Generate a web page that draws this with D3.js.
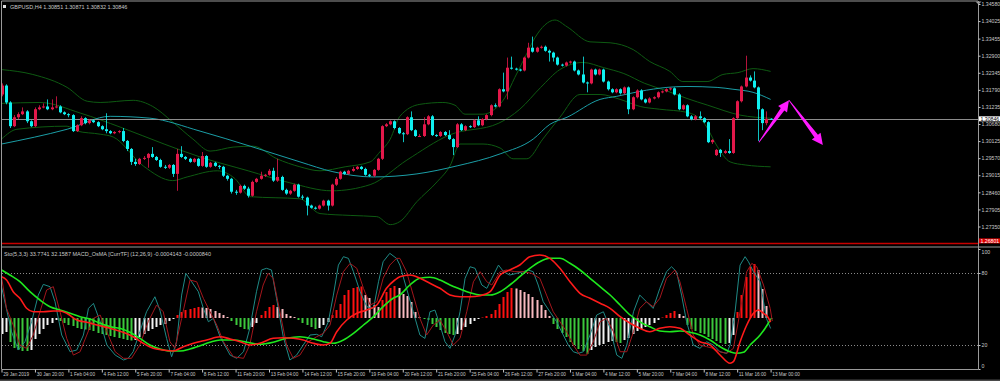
<!DOCTYPE html>
<html>
<head>
<meta charset="utf-8">
<script src="https://cdnjs.cloudflare.com/ajax/libs/d3/7.8.5/d3.min.js"></script>
<style>
body { margin: 0; background: #000; }
svg { display: block; }
text { font-family: "Liberation Sans", Arial, sans-serif; font-size: 5.5px; fill: #c8c8c8; }
</style>
</head>
<body>
<svg id="chart" width="1000" height="381"></svg>
<script>
"use strict";

// ---- data (GBPUSD H4, 185 bars) ----
const symbol = "GBPUSD,H4";

const opens = [1.3164,1.3193,1.3138,1.3061,1.3090,1.3100,1.3109,1.3077,1.3061,1.3116,
  1.3122,1.3125,1.3116,1.3122,1.3125,1.3106,1.3100,1.3097,1.3045,1.3064,
  1.3087,1.3071,1.3080,1.3074,1.3061,1.3051,1.3045,1.3038,1.3042,1.3045,
  1.3013,1.2987,1.2945,1.2938,1.2955,1.2958,1.2971,1.2961,1.2951,1.2929,
  1.2926,1.2935,1.2906,1.2971,1.2961,1.2955,1.2945,1.2955,1.2932,1.2964,
  1.2929,1.2942,1.2932,1.2929,1.2900,1.2890,1.2848,1.2845,1.2867,1.2858,
  1.2835,1.2880,1.2890,1.2900,1.2903,1.2916,1.2884,1.2896,1.2854,1.2842,
  1.2851,1.2871,1.2832,1.2829,1.2803,1.2796,1.2793,1.2803,1.2819,1.2803,
  1.2871,1.2890,1.2913,1.2906,1.2916,1.2922,1.2929,1.2922,1.2903,1.2900,
  1.2919,1.2955,1.3061,1.3067,1.3077,1.3055,1.3038,1.3035,1.3090,1.3048,
  1.3029,1.3029,1.3067,1.3093,1.3032,1.3029,1.3042,1.3032,1.3019,1.2993,
  1.3067,1.3048,1.3061,1.3058,1.3080,1.3064,1.3084,1.3097,1.3129,1.3125,
  1.3181,1.3174,1.3251,1.3248,1.3245,1.3242,1.3284,1.3316,1.3303,1.3316,
  1.3319,1.3306,1.3300,1.3284,1.3261,1.3258,1.3268,1.3271,1.3242,1.3229,
  1.3203,1.3200,1.3245,1.3229,1.3245,1.3206,1.3181,1.3171,1.3181,1.3168,
  1.3187,1.3116,1.3155,1.3177,1.3148,1.3138,1.3151,1.3155,1.3171,1.3174,
  1.3181,1.3184,1.3164,1.3116,1.3129,1.3093,1.3084,1.3093,1.3087,1.3074,
  1.3009,1.2967,1.2984,1.2974,1.2980,1.2974,1.3087,1.3142,1.3190,1.3219,
  1.3209,1.3187,1.3116,1.3071,1.30851];

const highs = [1.3200,1.3197,1.3142,1.3097,1.3106,1.3122,1.3113,1.3080,1.3122,1.3129,
  1.3135,1.3148,1.3148,1.3158,1.3129,1.3109,1.3103,1.3100,1.3067,1.3093,
  1.3090,1.3084,1.3084,1.3077,1.3064,1.3103,1.3048,1.3045,1.3048,1.3055,
  1.3016,1.2990,1.2955,1.2958,1.2964,1.2974,1.2993,1.2964,1.2955,1.2935,
  1.2938,1.2938,1.2987,1.2996,1.2964,1.2958,1.2958,1.2958,1.2977,1.2967,
  1.2945,1.2945,1.2935,1.2932,1.2903,1.2893,1.2854,1.2871,1.2871,1.2864,
  1.2884,1.2893,1.2913,1.2906,1.2922,1.2926,1.2955,1.2900,1.2858,1.2854,
  1.2874,1.2874,1.2838,1.2832,1.2806,1.2800,1.2806,1.2822,1.2822,1.2874,
  1.2896,1.2916,1.2916,1.2919,1.2929,1.2932,1.2932,1.2926,1.2906,1.2922,
  1.2958,1.3064,1.3071,1.3080,1.3080,1.3058,1.3042,1.3093,1.3109,1.3051,
  1.3035,1.3090,1.3097,1.3097,1.3035,1.3045,1.3045,1.3048,1.3022,1.3071,
  1.3071,1.3064,1.3064,1.3084,1.3093,1.3087,1.3100,1.3132,1.3135,1.3184,
  1.3235,1.3284,1.3287,1.3251,1.3248,1.3287,1.3332,1.3352,1.3319,1.3323,
  1.3323,1.3310,1.3303,1.3287,1.3264,1.3271,1.3274,1.3274,1.3245,1.3287,
  1.3206,1.3248,1.3248,1.3248,1.3248,1.3209,1.3184,1.3184,1.3184,1.3190,
  1.3190,1.3158,1.3181,1.3181,1.3151,1.3155,1.3158,1.3174,1.3177,1.3184,
  1.3187,1.3187,1.3168,1.3132,1.3132,1.3097,1.3097,1.3109,1.3090,1.3077,
  1.3019,1.2987,1.2987,1.2984,1.3019,1.3090,1.3145,1.3193,1.3290,1.3226,
  1.3239,1.3190,1.3119,1.3109,1.30871];

const lows = [1.3158,1.3132,1.3055,1.3058,1.3084,1.3097,1.3071,1.3058,1.3058,1.3113,
  1.3119,1.3113,1.3113,1.3119,1.3103,1.3097,1.3090,1.3042,1.3042,1.3061,
  1.3067,1.3067,1.3071,1.3058,1.3048,1.3038,1.3035,1.3035,1.3038,1.3009,
  1.2980,1.2935,1.2932,1.2935,1.2951,1.2926,1.2958,1.2948,1.2926,1.2922,
  1.2922,1.2896,1.2851,1.2958,1.2951,1.2942,1.2942,1.2929,1.2929,1.2926,
  1.2926,1.2929,1.2922,1.2896,1.2884,1.2842,1.2838,1.2842,1.2854,1.2829,
  1.2832,1.2877,1.2887,1.2896,1.2900,1.2880,1.2880,1.2851,1.2838,1.2838,
  1.2848,1.2829,1.2822,1.2771,1.2793,1.2790,1.2790,1.2800,1.2787,1.2800,
  1.2867,1.2887,1.2903,1.2903,1.2913,1.2919,1.2919,1.2900,1.2896,1.2896,
  1.2916,1.2951,1.3058,1.3064,1.3051,1.3035,1.3009,1.3032,1.3045,1.3026,
  1.3026,1.3026,1.3064,1.3029,1.3026,1.3026,1.3029,1.3016,1.2967,1.2990,
  1.3045,1.3045,1.3055,1.3055,1.3061,1.3061,1.3080,1.3093,1.3122,1.3122,
  1.3171,1.3148,1.3245,1.3242,1.3239,1.3239,1.3281,1.3300,1.3300,1.3313,
  1.3303,1.3271,1.3271,1.3258,1.3255,1.3255,1.3264,1.3239,1.3226,1.3200,
  1.3171,1.3197,1.3226,1.3226,1.3203,1.3177,1.3168,1.3168,1.3164,1.3164,
  1.3100,1.3113,1.3151,1.3145,1.3135,1.3135,1.3148,1.3151,1.3168,1.3171,
  1.3177,1.3161,1.3113,1.3113,1.3090,1.3080,1.3080,1.3084,1.3071,1.3006,
  1.3003,1.2964,1.2961,1.2971,1.2971,1.2971,1.3084,1.3138,1.3187,1.3206,
  1.3184,1.3013,1.3048,1.3064,1.30832];

const closes = [1.3193,1.3138,1.3061,1.3090,1.3100,1.3109,1.3077,1.3061,1.3116,1.3122,
  1.3125,1.3116,1.3122,1.3125,1.3106,1.3100,1.3097,1.3045,1.3064,1.3087,
  1.3071,1.3080,1.3074,1.3061,1.3051,1.3045,1.3038,1.3042,1.3045,1.3013,
  1.2987,1.2945,1.2938,1.2955,1.2958,1.2971,1.2961,1.2951,1.2929,1.2926,
  1.2935,1.2906,1.2971,1.2961,1.2955,1.2945,1.2955,1.2932,1.2964,1.2929,
  1.2942,1.2932,1.2929,1.2900,1.2890,1.2848,1.2845,1.2867,1.2858,1.2835,
  1.2880,1.2890,1.2900,1.2903,1.2916,1.2884,1.2896,1.2854,1.2842,1.2851,
  1.2871,1.2832,1.2829,1.2803,1.2796,1.2793,1.2803,1.2819,1.2803,1.2871,
  1.2890,1.2913,1.2906,1.2916,1.2922,1.2929,1.2922,1.2903,1.2900,1.2919,
  1.2955,1.3061,1.3067,1.3077,1.3055,1.3038,1.3035,1.3090,1.3048,1.3029,
  1.3029,1.3067,1.3093,1.3032,1.3029,1.3042,1.3032,1.3019,1.2993,1.3067,
  1.3048,1.3061,1.3058,1.3080,1.3064,1.3084,1.3097,1.3129,1.3125,1.3181,
  1.3174,1.3251,1.3248,1.3245,1.3242,1.3284,1.3316,1.3303,1.3316,1.3319,
  1.3306,1.3300,1.3284,1.3261,1.3258,1.3268,1.3271,1.3242,1.3229,1.3203,
  1.3200,1.3245,1.3229,1.3245,1.3206,1.3181,1.3171,1.3181,1.3168,1.3187,
  1.3116,1.3155,1.3177,1.3148,1.3138,1.3151,1.3155,1.3171,1.3174,1.3181,
  1.3184,1.3164,1.3116,1.3129,1.3093,1.3084,1.3093,1.3087,1.3074,1.3009,
  1.3016,1.2984,1.2974,1.2980,1.2974,1.3087,1.3142,1.3190,1.3219,1.3209,
  1.3187,1.3116,1.3071,1.3085,1.30846];

// Bollinger bands and slow MA, sampled as [bar, price]
const bbUpper = [[0,1.3245],[7.5,1.3229],[15.7,1.3187],[20.5,1.3142],[23.6,1.3138],[31.5,1.3145],
  [36.2,1.3125],[41,1.3074],[45.8,1.3019],[49.9,1.2980],[55.4,1.2993],[60.2,1.2996],[65.9,1.2955],
  [71.4,1.2929],[76.2,1.2916],[82.2,1.2929],[88.2,1.2945],[90.5,1.2977],[93,1.3019],[95.3,1.3093],
  [100.1,1.3132],[105.6,1.3138],[108.5,1.3129],[110.9,1.3100],[115.2,1.3100],[118,1.3116],
  [120.5,1.3155],[122.8,1.3219],[125.2,1.3284],[127.6,1.3348],[130,1.3390],[132.4,1.3406],
  [135.3,1.3384],[140.8,1.3335],[145.6,1.3332],[151.1,1.3310],[155.1,1.3271],[159.9,1.3239],
  [163,1.3206],[168.8,1.3206],[172.6,1.3229],[176.2,1.3235],[179.8,1.3248],[184,1.3239]];
const bbMiddle = [[0,1.3135],[9.2,1.3138],[19,1.3103],[28.4,1.3058],[38.9,1.3003],[47.5,1.2961],
  [59,1.2916],[69,1.2877],[79,1.2851],[88.2,1.2871],[97,1.2951],[107.1,1.3032],[119,1.3071],
  [124,1.3116],[129,1.3187],[133.6,1.3245],[139.1,1.3268],[144.1,1.3251],[148.9,1.3232],
  [153.9,1.3200],[158.9,1.3177],[164,1.3151],[169,1.3129],[176.7,1.3097],[184,1.3087]];
const bbLower = [[0,1.3019],[3.7,1.3051],[15.7,1.3061],[18.1,1.3045],[23.6,1.3035],[26.7,1.3026],
  [33.9,1.2932],[41,1.2884],[44.4,1.2896],[51.6,1.2916],[55.9,1.2890],[59.5,1.2832],[71.4,1.2825],
  [76.2,1.2777],[83.4,1.2771],[89.8,1.2767],[93,1.2741],[95.3,1.2751],[99.4,1.2816],[104.2,1.2880],
  [107.3,1.2932],[109.7,1.3003],[115.2,1.3003],[119.3,1.2990],[122.4,1.2955],[125.7,1.2955],
  [129.5,1.3019],[133.6,1.3090],[138.4,1.3164],[143.2,1.3164],[148,1.3148],[152.8,1.3125],
  [157.5,1.3116],[164,1.3106],[168.3,1.3067],[171.2,1.2996],[174.3,1.2945],[177.9,1.2935],[184,1.2929]];
const maSlow = [[0,1.3003],[15.7,1.3051],[26,1.3093],[35.5,1.3087],[47.5,1.3045],[59.5,1.2996],
  [71.4,1.2945],[79.3,1.2913],[88.9,1.2896],[99.4,1.2906],[109,1.2932],[119.3,1.2971],[127.2,1.3019],
  [131.2,1.3067],[135.3,1.3090],[143.2,1.3148],[147.2,1.3158],[152.7,1.3174],[159.2,1.3187],
  [164,1.3190],[171.2,1.3187],[175,1.3181],[179.8,1.3171],[184,1.3148]];

const bidPrice = 1.30846;
const hLinePrice = 1.26801;

// magenta arrows drawn on the chart: [bar, price] -> [bar, price]
const arrows = [
  { from: [181.2, 1.3009], to: [188.4, 1.3145] },
  { from: [188.4, 1.3145], to: [196.5, 1.3000] }
];

const priceTicks = [1.34580,1.34025,1.33455,1.32900,1.32345,1.31790,1.31235,1.30680,
  1.30125,1.29570,1.29015,1.28460,1.27905,1.27350];

const timeIdx = [0,8,16,24,32,40,48,56,64,72,80,88,96,104,112,120,128,136,144,152,160,168,176,184];
const timeLabels = ["29 Jan 2019","30 Jan 20:00","1 Feb 04:00","4 Feb 12:00","5 Feb 20:00",
  "7 Feb 04:00","8 Feb 12:00","11 Feb 20:00","13 Feb 04:00","14 Feb 12:00","15 Feb 20:00",
  "19 Feb 04:00","20 Feb 12:00","21 Feb 20:00","25 Feb 04:00","26 Feb 12:00","27 Feb 20:00",
  "1 Mar 04:00","4 Mar 12:00","5 Mar 20:00","7 Mar 04:00","8 Mar 12:00","11 Mar 16:00","13 Mar 00:00"];

// Stochastic (5,3,3): [bar, value]
const stochK = [[0,68.6],[2.4,31.1],[4,15.8],[5.6,22.7],[7.2,39.4],[8.8,61.6],[10,70.5],[11.6,68.6],
  [12.8,56.1],[14.4,28.3],[16.4,14.4],[18,15.8],[19.6,28.3],[20.8,50.5],[22,54.7],[23.6,39.4],
  [25.2,20],[27.2,11.6],[29.2,7.5],[30.3,8.9],[31.5,14.4],[33.1,31.1],[34.7,47.7],[36.7,60.2],
  [37.9,49.1],[39.5,25.5],[40.7,10.2],[41.9,22.7],[43.1,61.6],[44.1,79.7],[45.5,72.7],[47.1,64.4],
  [48.3,50.5],[49.5,39.4],[50.7,42.2],[52.3,26.9],[54.7,11.6],[56.3,8.9],[57.9,14.4],[59.4,33.9],
  [61,64.4],[62.2,82.5],[63.4,83.9],[64.6,82.5],[65.8,58.9],[67.4,26.9],[69,7.5],[70.6,11.6],
  [72.2,20],[73.8,28.3],[75.4,28.9],[76.6,26.9],[78.2,39.4],[79.4,61.6],[80.6,86.6],[81.8,93.6],
  [83,92.2],[84.2,81.1],[85.8,64.4],[87.4,51.9],[89,50.5],[90.2,72.7],[91.3,89.4],[92.9,96.4],
  [94.5,92.2],[95.3,86.6],[96.9,67.2],[98.5,47.7],[100.1,28.3],[101.3,25.5],[102.5,47.7],
  [103.7,49.1],[104.9,36.6],[106.1,22.7],[107.3,17.2],[108.5,28.3],[109.7,47.7],[110.9,75.5],
  [112.1,85.2],[113.3,83.9],[114.9,70],[116.1,67.2],[117.3,75.5],[118.9,86.6],[120.1,81.1],
  [121.6,78.3],[123.2,79.7],[124.8,81.1],[126,82.5],[127.2,81.1],[128.4,70],[129.6,56.1],
  [131.2,47.7],[132.8,39.4],[134.4,28.3],[135.6,20],[136.8,14.4],[138,13],[139.2,14.4],[140.8,28.3],
  [142.4,45],[144,47.7],[145.6,33.9],[147.2,11.6],[148.4,8.9],[149.6,20],[151.2,47.7],[152.7,61.6],
  [154.3,56.1],[155.9,50.5],[157.5,67.2],[159.1,81.1],[160.3,85.2],[161.5,81.1],[162.7,61.6],
  [163.9,39.4],[165.5,20],[167.1,17.2],[168.7,22.7],[170.3,20],[171.9,14.4],[173.5,13],[174.3,20],
  [175.5,47.7],[176.7,86.6],[177.9,93.6],[178.7,89.4],[179.9,81.1],[181.5,72.7],[183,42.2],[184,33.8]];
const stochD = [[0,76.9],[1.2,50.5],[2.8,36.6],[4.4,20],[6,17.2],[7.6,28.3],[9.2,47.7],[10.8,65.8],
  [12.4,68.6],[14,47.7],[15.6,25.5],[17.2,11.6],[18.8,14.4],[20.4,28.3],[22,42.2],[23.6,45],
  [25.2,31.1],[27.2,14.4],[29.2,8.9],[31.1,8.9],[33.1,20],[35.1,39.4],[37.1,53.3],[38.7,47.7],
  [40.3,22.7],[41.5,17.2],[43.1,42.2],[45.1,74.1],[46.7,72.7],[48.3,58.9],[49.9,47.7],[51.5,36.6],
  [53.1,22.7],[55.5,10.2],[57.9,8.9],[59.4,20],[61,47.7],[62.6,70],[63.8,79.7],[65,75.5],[66.6,47.7],
  [68.2,20],[69.8,8.9],[71.4,11.6],[73.4,22.7],[75.4,26.9],[77,29.7],[78.6,36.6],[80.2,61.6],
  [81.8,81.1],[83.4,88],[85,83.9],[86.6,67.2],[88.2,53.3],[89.8,56.1],[91.3,75.5],[92.9,86.6],
  [94.5,92.2],[95.3,92.2],[96.9,81.1],[98.5,61.6],[100.1,42.2],[101.7,28.3],[103.3,36.6],[104.9,40.8],
  [106.5,31.1],[108.1,20],[109.7,25.5],[111.3,47.7],[112.9,72.7],[114.5,81.1],[116.1,72.7],
  [117.3,70],[119.3,81.1],[120.8,82.5],[122.8,81.1],[124.8,81.1],[126.8,79.7],[128.8,75.5],
  [130.4,61.6],[132,47.7],[133.6,39.4],[135.2,31.1],[136.8,20],[138.4,11.6],[140,11.6],[141.6,22.7],
  [143.2,39.4],[144.8,42.2],[146.4,31.1],[148,14.4],[149.6,14.4],[151.2,31.1],[152.7,50.5],
  [154.3,56.1],[155.9,51.9],[157.5,58.9],[159.1,75.5],[161.1,82.5],[162.3,72.7],[163.9,50.5],
  [165.5,28.3],[167.1,20],[168.7,18.6],[170.3,17.2],[171.9,14.4],[173.5,13],[175.1,17.2],
  [176.7,47.7],[178.3,81.1],[179.5,88],[180.7,85.2],[182.3,70],[183.9,50.5],[184.4,40]];

// MACD_OsMA (12,26,9), values in pips (0.0001)
const macdLine = [[0,41.3],[1.2,38],[2.8,26.3],[4.4,19.7],[6,9.7],[7.6,6.3],[10,6.3],[12.4,7],[14,7],
  [15.6,4.7],[18,-2],[20.4,-4.3],[22.8,-7],[26,-10.3],[29.1,-14.3],[31.5,-18.7],[33.9,-25.3],
  [36.3,-30.3],[38.7,-32],[41.1,-33],[43.5,-28.7],[45.9,-25.3],[49.1,-22],[52.3,-18.7],[54.7,-21],
  [57.1,-23.7],[59.4,-27],[61.8,-25.3],[65,-20.3],[67.4,-19.7],[69.8,-20.3],[72.2,-22],[74.6,-25.3],
  [77,-27],[78.6,-25.3],[80.2,-13.7],[82.6,-2],[85,4.7],[87.4,8],[89.8,13],[92.1,29.7],[94.1,38],
  [95.3,41.3],[97.7,43],[100.1,39.7],[102.5,34.7],[104.9,29.7],[107.3,23],[109.7,21.3],[112.1,21.3],
  [114.5,22.3],[116.9,26.3],[119.3,43],[121.6,48],[124,53],[126.4,61.3],[128.8,63],[131.2,59.7],
  [133.6,49.7],[136,36.3],[138.4,24.7],[140.8,19.7],[143.2,14.7],[145.6,9.7],[148,1.3],[150.4,-5.3],
  [152.7,-10.3],[155.1,-13.7],[157.5,-10.3],[159.9,-8.7],[162.3,-10.3],[164.7,-17],[167.1,-23.7],
  [169.5,-27],[171.9,-37],[174.3,-45.3],[175.1,-43.7],[176.7,-23.7],[178.3,-7],[179.9,4.7],
  [181.1,8],[182.3,4.7],[183.3,1.3],[184,-4.1]];
const signalLine = [[0,48],[2,43],[4.4,36.3],[6.8,26.3],[9.2,18],[11.6,11.3],[14,8],[16.4,4.7],
  [18.8,1.3],[21.2,-1],[23.6,-5.3],[26,-8.7],[28.3,-10.3],[30.7,-14.3],[33.1,-20.3],[35.5,-27],
  [37.9,-31],[40.3,-33],[42.7,-33],[45.1,-31],[47.5,-27.7],[49.9,-24.3],[52.3,-22],[55.5,-22],
  [58.7,-24.3],[61.8,-26.3],[65,-24.3],[68.2,-20.3],[71.4,-18.7],[74.6,-21],[77,-23.7],[79.4,-25.3],
  [81.8,-22],[84.2,-15.3],[86.6,-7],[89,1.3],[91.3,11.3],[93.7,19.7],[95.3,23],[97.7,33],[100.1,39.7],
  [102.5,40.7],[104.9,38],[107.3,33],[109.7,29],[112.1,25.3],[114.5,23],[116.9,23],[119.3,26.3],
  [121.6,33],[124,41.3],[126.4,49.7],[128.8,56.3],[131.2,59.7],[133.6,59.7],[136,54.7],[138.4,48],
  [140.8,39.7],[143.2,31.3],[145.6,23],[148,13],[150.4,3],[152.7,-3.7],[155.1,-8.7],[157.5,-13],
  [159.9,-13.7],[162.3,-13],[164.7,-14.3],[167.1,-17],[169.5,-22],[171.9,-28.7],[174.3,-33.7],
  [175.9,-35.3],[177.5,-34.3],[179.1,-27],[181.5,-17],[183.2,-7],[184,-1]];
const osma = [-16,-14,-24,-30,-32,-33,-33,-32,-21,-16,-11,-7,-5,-2,-3,-5,-7,-8,-10,-11,
  -11.5,-12,-13,-15,-16,-17,-18,-19,-20,-21,-22,-22.5,-22,-19,-16,-13,-11,-9,-7,-6,
  -3,-1,3,6,8,9,10,11,10.5,10,9,7,5,3,1,-3,-7,-9,-11,-11.5,
  -9,-5,3,7,11,13,11,9,4,2,1,-2,-5,-7,-9,-11,-10,-7,-4,3,
  8,14,23,28,30,31,31.5,23,20,13,11,18,26,30,32,30,24,22,16,6,
  1,-1,-2,-6,-9,-12,-15,-16,-17,-16,-12,-9,-6,-3,-1,0.5,2,4,8,14,
  21,26,30,29.5,28,26,24,21,18,13,8,2,-6,-11,-15,-19,-24,-27,-31,-33,
  -36,-32,-29,-27,-26,-24,-23,-24,-25,-22,-20,-16,-13,-11,-9,-7,-5,-2,0.5,3,
  5,7,4,2,-7,-11,-13,-15,-16,-19,-21,-23,-25,-26,-25,-17,6,23,41,51,
  54,48,29,12,-1];

const subHeader = "Sto(5,3,3) 33.7741 32.1587  MACD_OsMA [CurrTF] (12,26,9) -0.0004143 -0.0000840";

// ---- layout ----
const plotL = 2, plotR = 978;
const mainT = 1.5, mainB = 246, subB = 369;
const fontFam = "\"Liberation Sans\", Arial, sans-serif";

const svg = d3.select("#chart");
svg.append("rect").attr("width", 1000).attr("height", 381).attr("fill", "#000");

const x = d3.scaleLinear().domain([0, 184]).range([1.5, 770.6]);
const y = d3.scaleLinear().domain([1.2735, 1.3458]).range([226.5, 4]);
const yStoch = d3.scaleLinear().domain([0, 100]).range([369, 249]);
const yMacd = d3.scaleLinear().domain([-51, 69]).range([369, 249]);

const defs = svg.append("defs");
defs.append("clipPath").attr("id", "clipMain").append("rect")
  .attr("x", plotL).attr("y", mainT).attr("width", plotR - plotL).attr("height", mainB - mainT);
defs.append("clipPath").attr("id", "clipSub").append("rect")
  .attr("x", plotL).attr("y", 247.5).attr("width", plotR - plotL).attr("height", subB - 247.5);

// ---- main window ----
const main = svg.append("g").attr("clip-path", "url(#clipMain)");

const priceLine = d3.line().x(d => x(d[0])).y(d => y(d[1])).curve(d3.curveMonotoneX);
[bbUpper, bbMiddle, bbLower].forEach(band => {
  main.append("path").datum(band).attr("d", priceLine)
    .attr("fill", "none").attr("stroke", "#0e5a12").attr("stroke-width", 1);
});
main.append("path").datum(maSlow).attr("d", priceLine)
  .attr("fill", "none").attr("stroke", "#1b9ea6").attr("stroke-width", 1);

// bid line and horizontal line object
main.append("line").attr("x1", plotL).attr("x2", plotR)
  .attr("y1", Math.round(y(bidPrice)) + 0.5).attr("y2", Math.round(y(bidPrice)) + 0.5)
  .attr("stroke", "#8c8c8c").attr("stroke-width", 1);
main.append("line").attr("x1", plotL).attr("x2", plotR)
  .attr("y1", y(hLinePrice)).attr("y2", y(hLinePrice))
  .attr("stroke", "#c80000").attr("stroke-width", 1.5);

// candles
const bars = d3.range(closes.length).map(i => ({ i, o: opens[i], h: highs[i], l: lows[i], c: closes[i] }));
const upCol = "#e3184a", dnCol = "#0ff0f0";
const candle = main.selectAll("g.candle").data(bars).enter().append("g").attr("class", "candle");
candle.append("line")
  .attr("x1", d => Math.round(x(d.i)) + 0.5).attr("x2", d => Math.round(x(d.i)) + 0.5)
  .attr("y1", d => y(d.h)).attr("y2", d => y(d.l))
  .attr("stroke", d => d.c >= d.o ? upCol : dnCol).attr("stroke-width", 1).attr("opacity", 0.8);
candle.append("rect")
  .attr("x", d => Math.round(x(d.i)) - 1)
  .attr("width", 3)
  .attr("y", d => y(Math.max(d.o, d.c)))
  .attr("height", d => Math.max(1, Math.abs(y(d.o) - y(d.c))))
  .attr("fill", d => d.c >= d.o ? upCol : dnCol);

// arrows
arrows.forEach(a => {
  const x0 = x(a.from[0]), y0 = y(a.from[1]);
  const x1 = x(a.to[0]), y1 = y(a.to[1]);
  const len = Math.hypot(x1 - x0, y1 - y0);
  const ux = (x1 - x0) / len, uy = (y1 - y0) / len;
  const nx = -uy, ny = ux;
  const headLen = 11, headW = 5.5, shaftW = 2.2;
  const bx = x1 - ux * headLen, by = y1 - uy * headLen;
  const pts = [
    [x0 + nx * 0.4, y0 + ny * 0.4],
    [bx + nx * shaftW, by + ny * shaftW],
    [bx + nx * headW, by + ny * headW],
    [x1, y1],
    [bx - nx * headW, by - ny * headW],
    [bx - nx * shaftW, by - ny * shaftW],
    [x0 - nx * 0.4, y0 - ny * 0.4]
  ];
  svg.append("polygon").attr("points", pts.map(p => p.join(",")).join(" "))
    .attr("fill", "#ff1aff");
});

// ---- sub window ----
const sub = svg.append("g").attr("clip-path", "url(#clipSub)");

[80, 20].forEach(v => {
  sub.append("line").attr("x1", plotL).attr("x2", plotR)
    .attr("y1", Math.round(yStoch(v)) + 0.5).attr("y2", Math.round(yStoch(v)) + 0.5)
    .attr("stroke", "#8a8a8a").attr("stroke-width", 1).attr("stroke-dasharray", "1,2");
});

function osmaColor(v, prev) {
  if (v >= 0) return v >= prev ? "#ff1010" : "#f7b9bf";
  return v <= prev ? "#3cc83c" : "#f2f2f2";
}
sub.selectAll("rect.osma").data(osma).enter().append("rect").attr("class", "osma")
  .attr("x", (d, i) => Math.round(x(i)) - 0.5)
  .attr("width", 2)
  .attr("y", d => yMacd(Math.max(0, d)))
  .attr("height", d => Math.abs(yMacd(d) - yMacd(0)))
  .attr("fill", (d, i) => osmaColor(d, i ? osma[i - 1] : d - 1));

const stochPath = d3.line().x(d => x(d[0])).y(d => yStoch(d[1]));
sub.append("path").datum(stochK).attr("d", stochPath)
  .attr("fill", "none").attr("stroke", "#1f8a86").attr("stroke-width", 1);
sub.append("path").datum(stochD).attr("d", stochPath)
  .attr("fill", "none").attr("stroke", "#a3161c").attr("stroke-width", 1);

const macdPath = d3.line().x(d => x(d[0])).y(d => yMacd(d[1])).curve(d3.curveMonotoneX);
sub.append("path").datum(signalLine).attr("d", macdPath)
  .attr("fill", "none").attr("stroke", "#1ee81e").attr("stroke-width", 1.6);
sub.append("path").datum(macdLine).attr("d", macdPath)
  .attr("fill", "none").attr("stroke", "#ff1a1a").attr("stroke-width", 1.6);

// ---- frame ----
const frameCol = "#9a9a9a";
svg.append("line").attr("x1", 1.5).attr("x2", plotR).attr("y1", 1).attr("y2", 1).attr("stroke", frameCol);
svg.append("line").attr("x1", 1.5).attr("x2", 1.5).attr("y1", 1).attr("y2", subB).attr("stroke", frameCol);
svg.append("line").attr("x1", 1.5).attr("x2", 1000).attr("y1", 247).attr("y2", 247).attr("stroke", frameCol);
svg.append("line").attr("x1", plotR + 0.5).attr("x2", plotR + 0.5).attr("y1", 1).attr("y2", subB).attr("stroke", frameCol);
svg.append("line").attr("x1", 1.5).attr("x2", plotR + 0.5).attr("y1", subB + 0.5).attr("y2", subB + 0.5).attr("stroke", frameCol);
svg.append("rect").attr("x", 0).attr("y", 379.5).attr("width", 1000).attr("height", 2).attr("fill", "#4a4a4a");
svg.append("path").attr("d", "M975.5,1.5 L981.5,1.5 L978.5,4.5 Z").attr("fill", "#9a9a9a");

// ---- axes ----
const yAxisG = svg.append("g").attr("transform", `translate(${plotR + 0.5},0)`)
  .call(d3.axisRight(y).tickValues(priceTicks).tickFormat(d3.format(".5f")).tickSize(2).tickSizeOuter(0));
yAxisG.select(".domain").remove();
yAxisG.selectAll(".tick line").attr("stroke", "#c8c8c8");
yAxisG.selectAll(".tick text").attr("x", 3).attr("fill", "#c8c8c8")
  .style("font-family", fontFam).style("font-size", "5.2px");

// price tags
function priceTag(price, bg, fg) {
  const yy = Math.min(y(price), 241);
  svg.append("rect").attr("x", plotR + 1).attr("y", yy - 2.6).attr("width", 21).attr("height", 5)
    .attr("fill", bg);
  svg.append("text").attr("x", plotR + 2.5).attr("y", yy + 1.8).style("fill", fg).style("font-size", "5.2px")
    .text(d3.format(".5f")(price));
}
priceTag(bidPrice, "#ffffff", "#000000");
priceTag(hLinePrice, "#e00000", "#ffffff");

const sAxisG = svg.append("g").attr("transform", `translate(${plotR + 0.5},0)`)
  .call(d3.axisRight(yStoch).tickValues([100, 80, 20, 0]).tickFormat(d3.format("d")).tickSize(2).tickSizeOuter(0));
sAxisG.select(".domain").remove();
sAxisG.selectAll(".tick line").attr("stroke", "#c8c8c8");
sAxisG.selectAll(".tick text").attr("x", 3).attr("fill", "#c8c8c8")
  .style("font-family", fontFam).style("font-size", "5.2px")
  .attr("y", d => d === 100 ? 3 : d === 0 ? -3 : 0);

const xAxisG = svg.append("g").attr("transform", `translate(0,${subB + 0.5})`)
  .call(d3.axisBottom(x).tickValues(timeIdx).tickFormat((d, i) => timeLabels[i]).tickSize(3).tickSizeOuter(0));
xAxisG.select(".domain").remove();
xAxisG.selectAll(".tick line").attr("stroke", "#c8c8c8");
xAxisG.selectAll(".tick text").attr("text-anchor", "start").attr("x", 1.2).attr("y", 3.2).attr("fill", "#c8c8c8")
  .style("font-family", fontFam).style("font-size", "4.7px");

// ---- headers ----
const last = bars[bars.length - 1];
svg.append("rect").attr("x", 3).attr("y", 5).attr("width", 3).attr("height", 3).attr("fill", "#e0e0e0");
svg.append("text").attr("x", 10).attr("y", 8.5)
  .text(`${symbol}  ${[last.o, last.h, last.l, last.c].map(d3.format(".5f")).join(" ")}`);
svg.append("text").attr("x", 4).attr("y", 255.5).text(subHeader);
</script>
</body>
</html>
